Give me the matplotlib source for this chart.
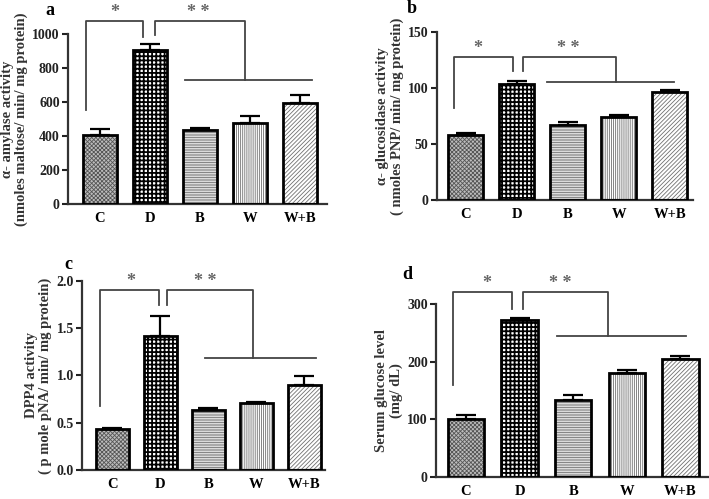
import matplotlib
matplotlib.use("Agg")
import matplotlib.pyplot as plt

groups = ['C', 'D', 'B', 'W', 'W+B']

amylase = [405, 905, 435, 475, 595]
amylase_err = [35, 35, 10, 40, 45]
glucosidase = [58, 104, 67, 74, 96]
glucosidase_err = [1.5, 2.0, 3.0, 1.5, 2.5]
dpp4 = [0.43, 1.42, 0.64, 0.71, 0.90]
dpp4_err = [0.01, 0.21, 0.02, 0.01, 0.09]
glucose = [100, 272, 133, 181, 205]
glucose_err = [8, 4, 9, 4, 4]

plt.rcParams['font.family'] = ['Liberation Serif', 'DejaVu Serif']
plt.rcParams['font.weight'] = 'bold'
plt.rcParams['hatch.linewidth'] = 0.6

# face colour, hatch colour, hatch pattern, hatch linewidth for each group
styles = [('#bdbdbd', '#555555', 'xxxxxxxx', 0.6),
          ('white', 'black', '++++', 1.3),
          ('white', '#707070', '----------', 0.6),
          ('white', '#707070', '||||||||', 0.6),
          ('white', '#707070', '////////', 0.6)]

fig = plt.figure(figsize=(7.09, 4.99), dpi=100)

panels = [
    # letter, values, err, ylim, yticks, ylabel, axes rect, xlim, bracket, letter pos
    ('a', amylase, amylase_err, 1000, [0, 200, 400, 600, 800, 1000],
     'α- amylase activity\n(nmoles maltose/ min/ mg protein)',
     [0.096, 0.591, 0.365, 0.341], (-0.64, 4.54),
     dict(top=1076, s1=(-0.28, 553, 0.86, 982), s2=(1.1, 994, 2.9, 729),
          hline=(1.7, 4.24), star1=0.3, star2=1.96), (-0.07, 1.14)),
    ('b', glucosidase, glucosidase_err, 150, [0, 50, 100, 150],
     'α- glucosidase activity\n( nmoles PNP/ min/ mg protein)',
     [0.616, 0.599, 0.361, 0.337], (-0.57, 4.45),
     dict(top=127.7, s1=(-0.24, 82, 0.92, 115), s2=(1.12, 115, 2.94, 105),
          hline=(1.59, 4.08), star1=0.24, star2=2.0), (-0.098, 1.14)),
    ('c', dpp4, dpp4_err, 2.0, [0.0, 0.5, 1.0, 1.5, 2.0],
     'DPP4 activity\n( p mole pNA/ min/ mg protein)',
     [0.116, 0.058, 0.343, 0.379], (-0.63, 4.44),
     dict(top=1.90, s1=(-0.25, 0.68, 0.96, 1.75), s2=(1.14, 1.75, 2.92, 1.19),
          hline=(1.92, 4.25), star1=0.38, star2=1.94), (-0.058, 1.085)),
    ('d', glucose, glucose_err, 300, [0, 100, 200, 300],
     'Serum glucose level\n(mg/ dL)',
     [0.615, 0.044, 0.384, 0.347], (-0.56, 4.52),
     dict(top=321, s1=(-0.24, 160, 0.86, 291), s2=(1.07, 291, 2.64, 244),
          hline=(1.70, 4.11), star1=0.39, star2=1.76), (-0.107, 1.17)),
]

for letter, vals, errs, ymax, yticks, ylabel, rect, xlim, br, lpos in panels:
    ax = fig.add_axes(rect)
    x = list(range(len(groups)))
    for i in x:
        face, hcol, hatch, hlw = styles[i]
        bars = ax.bar(i, vals[i], width=0.68, color=face, edgecolor=hcol,
                      hatch=hatch, linewidth=0, zorder=2)
        for b in bars:
            if hasattr(b, 'set_hatch_linewidth'):
                b.set_hatch_linewidth(hlw)
    ax.bar(x, vals, width=0.68, fill=False, edgecolor='black',
           linewidth=2, zorder=3)
    ax.errorbar(x, vals, yerr=[[0] * len(errs), errs], fmt='none',
                ecolor='black', elinewidth=1.6, capsize=7, capthick=1.6,
                zorder=4)

    ax.set_xlim(*xlim)
    ax.set_ylim(0, ymax)
    ax.set_yticks(yticks)
    if ymax == 2.0:
        ax.set_yticklabels(['%.1f' % t for t in yticks])
    ax.set_xticks(x)
    ax.set_xticklabels(groups)
    ax.tick_params(axis='x', length=0, pad=6, labelsize=10.5)
    ax.tick_params(axis='y', length=4, width=1.5, labelsize=10, pad=2,
                   colors='#222222')
    for sp in ['top', 'right']:
        ax.spines[sp].set_visible(False)
    for sp in ['left', 'bottom']:
        ax.spines[sp].set_linewidth(1.6)
        ax.spines[sp].set_color('#333333')
    ax.set_ylabel(ylabel, fontsize=10.5, fontweight='bold', color='#333333',
                  linespacing=1.1, labelpad=3)

    # significance brackets
    lc = '#444444'
    top = br['top']
    x1, y1, x2, y2 = br['s1']
    ax.plot([x1, x1, x2, x2], [y1, top, top, y2], color=lc, lw=1.3,
            clip_on=False, zorder=5)
    x1, y1, x2, y2 = br['s2']
    ax.plot([x1, x1, x2, x2], [y1, top, top, y2], color=lc, lw=1.3,
            clip_on=False, zorder=5)
    ax.plot(list(br['hline']), [y2, y2], color=lc, lw=1.3,
            clip_on=False, zorder=5)
    ax.text(br['star1'], top, '*', ha='center', va='bottom', fontsize=13,
            color='#666666')
    ax.text(br['star2'], top, '* *', ha='center', va='bottom', fontsize=13,
            color='#666666')

    ax.text(lpos[0], lpos[1], letter, transform=ax.transAxes, fontsize=13,
            fontweight='bold', ha='center', va='center')

fig.savefig('out.png', dpi=100)
